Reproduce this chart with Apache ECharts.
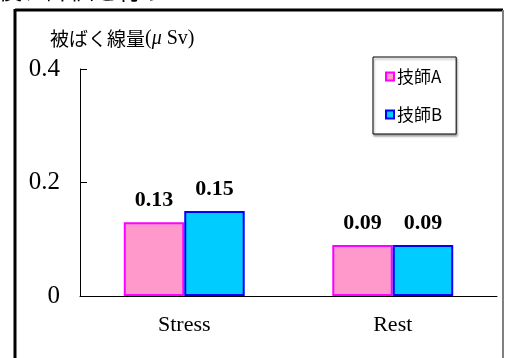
<!DOCTYPE html>
<html>
<head>
<meta charset="utf-8">
<script src="https://cdn.jsdelivr.net/npm/echarts@6/dist/echarts.min.js"></script>
<style>
  html, body { margin: 0; padding: 0; background: #fff; }
  #chart { width: 505px; height: 358px; }
</style>
</head>
<body>
<div id="chart"></div>
<script>
// Exposure dose per technologist, stress vs rest
const categories = ['Stress', 'Rest'];
const seriesNames = ['技師A', '技師B'];
const doseA = [0.13, 0.09];
const doseB = [0.15, 0.09];
const yTicks = [0, 0.2, 0.4];

const serif = '"Liberation Serif", "Times New Roman", serif';
const jp = '"Noto Sans CJK JP", sans-serif';

const chart = echarts.init(document.getElementById('chart'), null, { renderer: 'canvas' });

const valueLabel = {
  show: true,
  position: 'top',
  distance: 11,
  fontFamily: serif,
  fontWeight: 'bold',
  fontSize: 22,
  color: '#000',
  formatter: p => p.value.toFixed(2)
};

chart.setOption({
  backgroundColor: '#fff',
  animation: false,
  graphic: [
    // caption text running above the panel
    { type: 'text', left: -2, top: -22, style: { text: '後、評価を行う', font: '24px "Noto Sans CJK JP"', fill: '#000' } },
    // panel frame
    { type: 'line', shape: { x1: 15, y1: 10, x2: 503, y2: 10 }, style: { stroke: '#000', lineWidth: 3 } },
    { type: 'line', shape: { x1: 15, y1: 9, x2: 15, y2: 360 }, style: { stroke: '#000', lineWidth: 3 } },
    { type: 'line', shape: { x1: 503, y1: 10, x2: 503, y2: 360 }, style: { stroke: '#808080', lineWidth: 2 } },
    // unit label
    {
      type: 'text', left: 50, top: 29,
      style: {
        text: '{a|被ばく線量}{b|(}{c|μ}{b| Sv)}',
        rich: {
          a: { fontFamily: jp, fontSize: 19, fill: '#000' },
          b: { fontFamily: serif, fontSize: 20, fill: '#000' },
          c: { fontFamily: serif, fontSize: 20, fontStyle: 'italic', fill: '#000' }
        }
      }
    }
  ],
  legend: {
    data: seriesNames,
    orient: 'vertical',
    left: 373,
    top: 57,
    width: 84,
    padding: [11, 14, 11, 12],
    itemGap: 21,
    itemWidth: 8,
    itemHeight: 8,
    icon: 'rect',
    borderColor: '#000',
    borderWidth: 1,
    backgroundColor: '#fff',
    shadowColor: 'rgba(0,0,0,0.35)',
    shadowOffsetX: 1,
    shadowOffsetY: 2,
    shadowBlur: 2,
    textStyle: { fontFamily: jp, fontSize: 17, color: '#000', padding: [0, 0, 0, -2] }
  },
  grid: { left: 80, right: 8, top: 69, bottom: 62, containLabel: false },
  xAxis: {
    type: 'category',
    data: categories,
    axisLine: { lineStyle: { color: '#000', width: 1 } },
    axisTick: { inside: true, length: 6, lineStyle: { color: '#000' } },
    axisLabel: { fontFamily: serif, fontSize: 22, color: '#000', margin: 18 }
  },
  yAxis: {
    type: 'value',
    min: yTicks[0],
    max: yTicks[yTicks.length - 1],
    interval: yTicks[1] - yTicks[0],
    splitLine: { show: false },
    axisLine: { show: true, lineStyle: { color: '#000', width: 1 } },
    axisTick: { show: true, inside: true, length: 7, lineStyle: { color: '#000' } },
    axisLabel: {
      fontFamily: serif, fontSize: 25, color: '#000', margin: 20,
      formatter: v => (v === 0 ? '0' : v.toFixed(1))
    }
  },
  series: [
    {
      name: seriesNames[0],
      type: 'bar',
      data: doseA,
      barGap: '0%',
      barCategoryGap: '42%',
      itemStyle: { color: '#FF99CC', borderColor: '#FF00FF', borderWidth: 2 },
      label: valueLabel
    },
    {
      name: seriesNames[1],
      type: 'bar',
      data: doseB,
      barGap: '0%',
      barCategoryGap: '42%',
      itemStyle: { color: '#00CCFF', borderColor: '#0000FF', borderWidth: 2 },
      label: valueLabel
    }
  ]
});
</script>
</body>
</html>
